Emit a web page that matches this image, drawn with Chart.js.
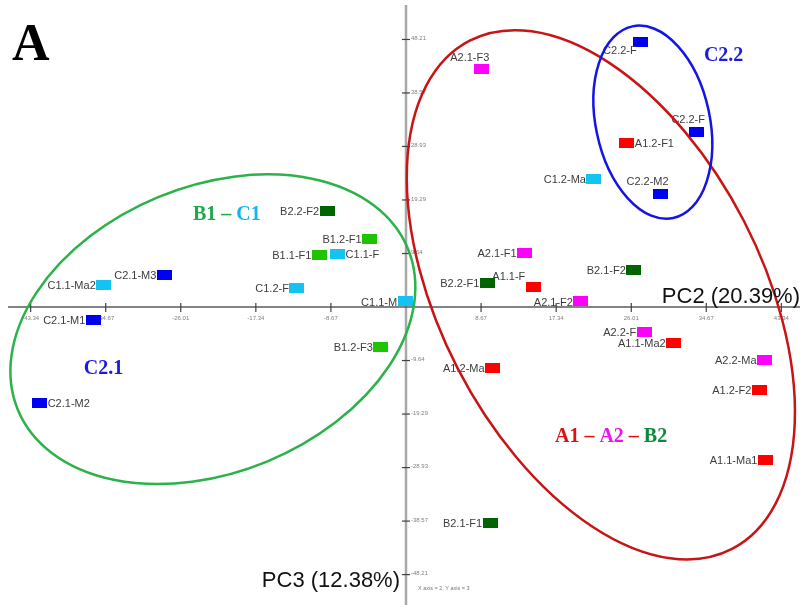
<!DOCTYPE html>
<html><head><meta charset="utf-8">
<script src="https://cdn.jsdelivr.net/npm/chart.js@4.4.1/dist/chart.umd.min.js"></script>
<style>html,body{margin:0;padding:0;background:#fff}#wrap{position:relative;width:803px;height:605px}</style>
</head><body><div id="wrap"><canvas id="c"></canvas></div>
<script>
// ---- data (PC2 = x, PC3 = y) ----
const xTickLabels = ['-43.34','-34.67','-26.01','-17.34','-8.67','8.67','17.34','26.01','34.67','43.34'];
const yTickLabels = ['48.21','38.57','28.93','19.29','9.64','-9.64','-19.29','-28.93','-38.57','-48.21'];

const c2Names = ['C2.2-F','C2.2-F','C2.2-M2','C2.1-M3','C2.1-M1','C2.1-M2'];
const c2PC2   = [27.1, 33.6, 29.4, -27.9, -36.1, -42.3];
const c2PC3   = [47.8, 31.6, 20.4, 5.7, -2.3, -17.3];

const c1Names = ['C1.2-Ma','C1.1-M','C1.1-F','C1.2-F','C1.1-Ma2'];
const c1PC2   = [21.7, -0.1, -7.9, -12.6, -34.9];
const c1PC3   = [23.1, 1.0, 9.6, 3.5, 3.9];

const a1Names = ['A1.2-F1','A1.1-F','A1.1-Ma2','A1.2-F2','A1.1-Ma1','A1.2-Ma'];
const a1PC2   = [25.5, 14.7, 30.9, 40.8, 41.5, 10.0];
const a1PC3   = [29.5, 3.6, -6.4, -15.0, -27.6, -11.0];

const a2Names = ['A2.1-F3','A2.1-F1','A2.1-F2','A2.2-F','A2.2-Ma'];
const a2PC2   = [8.7, 13.7, 20.2, 27.5, 41.4];
const a2PC3   = [42.8, 9.7, 1.0, -4.5, -9.5];

const b2Names = ['B2.2-F1','B2.1-F2','B2.1-F1','B2.2-F2'];
const b2PC2   = [9.4, 26.3, 9.7, -9.1];
const b2PC3   = [4.3, 6.7, -38.9, 17.3];

const b1Names = ['B1.1-F1','B1.2-F1','B1.2-F3'];
const b1PC2   = [-10.0, -4.2, -2.9];
const b1PC3   = [9.4, 12.3, -7.2];

// ---- styling ----
function marker(color){
  const cv = document.createElement('canvas'); cv.width = 15; cv.height = 10;
  const g = cv.getContext('2d'); g.fillStyle = color; g.fillRect(0,0,15,10); return cv;
}
function ds(names, xs, ys, color, pos){
  return {
    label: names.join(','), names: names, labelPos: pos,
    data: xs.map((v,i)=>({x:v, y:ys[i]})),
    pointStyle: marker(color), pointRadius: 7, backgroundColor: color, borderColor: color
  };
}
const datasets = [
  ds(c2Names, c2PC2, c2PC3, '#0000f0', ['BL','TL','TL','L','L','R']),
  ds(c1Names, c1PC2, c1PC3, '#14c3f2', ['L','L','R','L','L']),
  ds(a1Names, a1PC2, a1PC3, '#ff0000', ['R','UL','L','L','L','L']),
  ds(a2Names, a2PC2, a2PC3, '#ff00ff', ['TL','L','L','L','L']),
  ds(b2Names, b2PC2, b2PC3, '#006400', ['L','L','L','L']),
  ds(b1Names, b1PC2, b1PC3, '#1fc400', ['L','L','L'])
];

const decor = {
  id: 'decor',
  beforeDatasetsDraw(chart){
    const {ctx, scales:{x, y}} = chart;
    const x0 = x.getPixelForValue(0), y0 = y.getPixelForValue(0);
    ctx.save();
    ctx.strokeStyle = '#a8a8a8'; ctx.lineWidth = 2.5;
    ctx.beginPath(); ctx.moveTo(x0, 5); ctx.lineTo(x0, 605); ctx.stroke();
    ctx.strokeStyle = '#5a5a5a'; ctx.lineWidth = 1.5;
    ctx.beginPath(); ctx.moveTo(8, y0); ctx.lineTo(800, y0); ctx.stroke();
    ctx.strokeStyle = '#404040'; ctx.lineWidth = 1.2;
    ctx.fillStyle = '#808080'; ctx.font = '6px "Liberation Sans"';
    ctx.textAlign = 'center'; ctx.textBaseline = 'middle';
    xTickLabels.forEach(t => {
      const px = x.getPixelForValue(parseFloat(t));
      ctx.beginPath(); ctx.moveTo(px, y0-4); ctx.lineTo(px, y0+5); ctx.stroke();
      ctx.fillText(t, px, y0+11);
    });
    ctx.textAlign = 'left';
    yTickLabels.forEach(t => {
      const py = y.getPixelForValue(parseFloat(t));
      ctx.beginPath(); ctx.moveTo(x0-4, py); ctx.lineTo(x0+4, py); ctx.stroke();
      ctx.fillText(t, x0+5, py-1);
    });
    ctx.restore();
  },
  afterDatasetsDraw(chart){
    const {ctx, scales:{x, y}} = chart;
    ctx.save();
    // point labels
    ctx.font = '11px "Liberation Sans"'; ctx.fillStyle = '#3c3c3c'; ctx.textBaseline = 'middle';
    chart.data.datasets.forEach((d, di) => {
      const meta = chart.getDatasetMeta(di);
      meta.data.forEach((pt, i) => {
        const p = d.labelPos[i], n = d.names[i];
        let tx = pt.x, ty = pt.y + 1;
        if (p === 'L'){ ctx.textAlign = 'right'; tx = pt.x - 8; }
        else if (p === 'R'){ ctx.textAlign = 'left'; tx = pt.x + 8; }
        else if (p === 'BL'){ ctx.textAlign = 'right'; tx = pt.x - 4; ty = pt.y + 9; }
        else if (p === 'TL'){ ctx.textAlign = 'right'; tx = pt.x + 8; ty = pt.y - 12; }
        else if (p === 'UL'){ ctx.textAlign = 'right'; tx = pt.x - 8; ty = pt.y - 10; }
        ctx.fillText(n, tx, ty);
      });
    });
    // ellipses
    const ells = [
      {cx: 22.5, cy: 2.2, a: 286, b: 161, rot: 62.7, color: '#c81414'},
      {cx: -22.3, cy: -4.0, a: 211, b: 143, rot: -22.5, color: '#2bb24a'},
      {cx: 28.5, cy: 33.3, a: 98, b: 57, rot: 78, color: '#1414e6'}
    ];
    ctx.lineWidth = 2.5;
    ells.forEach(e => {
      ctx.strokeStyle = e.color;
      ctx.beginPath();
      ctx.ellipse(x.getPixelForValue(e.cx), y.getPixelForValue(e.cy), e.a, e.b, e.rot*Math.PI/180, 0, 2*Math.PI);
      ctx.stroke();
    });
    // group labels
    ctx.font = 'bold 20px "Liberation Serif"'; ctx.textAlign = 'left'; ctx.textBaseline = 'middle';
    const groups = [
      {x: -24.6, y: 16.6, parts: [['B1 – ','#1fa84a'],['C1','#12b4ef']]},
      {x: -37.2, y: -11.2, parts: [['C2.1','#1a1ae0']]},
      {x: 34.4, y: 45.2, parts: [['C2.2','#1a1ae0']]},
      {x: 17.2, y: -23.4, parts: [['A1 – ','#e01010'],['A2','#f010f0'],[' – ','#e01010'],['B2','#0a8a3a']]}
    ];
    groups.forEach(g => {
      let px = x.getPixelForValue(g.x); const py = y.getPixelForValue(g.y);
      g.parts.forEach(([t, c]) => { ctx.fillStyle = c; ctx.fillText(t, px, py); px += ctx.measureText(t).width; });
    });
    // axis titles
    ctx.font = '22px "Liberation Sans"'; ctx.fillStyle = '#111'; ctx.textAlign = 'right';
    ctx.fillText('PC2 (20.39%)', 800, 297);
    ctx.fillText('PC3 (12.38%)', 400, 581);
    ctx.font = '5.5px "Liberation Sans"'; ctx.fillStyle = '#777'; ctx.textAlign = 'left';
    ctx.fillText('X axis = 2, Y axis = 3', 418, 588);
    // panel letter
    ctx.font = 'bold 52px "Liberation Serif"'; ctx.fillStyle = '#000'; ctx.textBaseline = 'alphabetic';
    ctx.fillText('A', 12, 60);
    ctx.restore();
  }
};

new Chart(document.getElementById('c'), {
  type: 'scatter',
  data: { datasets },
  options: {
    responsive: true, maintainAspectRatio: false, animation: false,
    layout: { padding: 0, autoPadding: false },
    plugins: { legend: { display: false }, tooltip: { enabled: false } },
    scales: {
      x: { type: 'linear', min: -46.88, max: 45.84, display: false },
      y: { type: 'linear', min: -53.69, max: 55.32, display: false }
    }
  },
  plugins: [decor]
});
</script></body></html>
